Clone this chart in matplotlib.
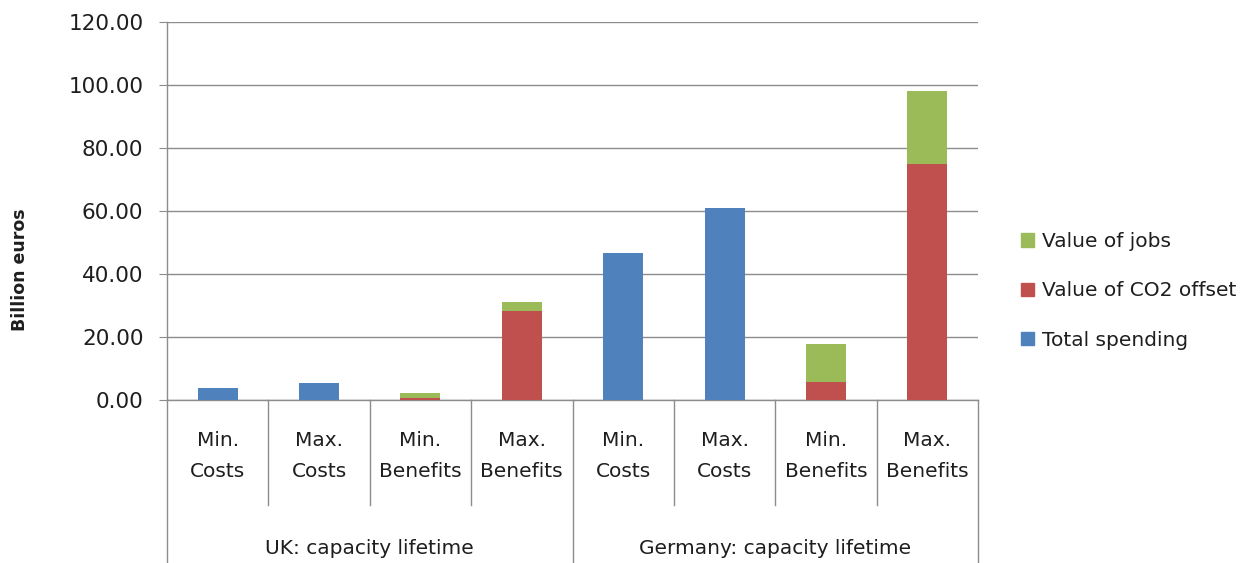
import matplotlib
matplotlib.use("Agg")
import matplotlib.pyplot as plt
from matplotlib.patches import Patch
import numpy as np

# Bar categories and the two group headings underneath
Categories = ["Min.\nCosts", "Max.\nCosts", "Min.\nBenefits", "Max.\nBenefits",
              "Min.\nCosts", "Max.\nCosts", "Min.\nBenefits", "Max.\nBenefits"]
Groups = ["UK: capacity lifetime", "Germany: capacity lifetime"]

# Values in billion euros
TotalSpending = [3.8, 5.5, 0.0, 0.0, 46.7, 61.0, 0.0, 0.0]
ValueCO2 = [0.0, 0.0, 0.6, 28.3, 0.0, 0.0, 5.8, 74.9]
ValueJobs = [0.0, 0.0, 1.5, 2.8, 0.0, 0.0, 11.9, 23.3]

YTicks = [0, 20, 40, 60, 80, 100, 120]

Blue = "#4F81BD"
Red = "#C0504D"
Green = "#9BBB59"
LineCol = "#8C8C8C"
TextCol = "#1E1E1E"

plt.rcParams["font.family"] = ["DejaVu Sans"]

fig = plt.figure(figsize=(12.53, 5.63), dpi=100)
ax = fig.add_axes([167 / 1253, 163 / 563, 811 / 1253, 378 / 563])

x = np.arange(len(Categories)) + 0.5
w = 0.395
ax.bar(x, TotalSpending, w, color=Blue, zorder=3)
ax.bar(x, ValueCO2, w, bottom=TotalSpending, color=Red, zorder=3)
bottom2 = np.array(TotalSpending) + np.array(ValueCO2)
ax.bar(x, ValueJobs, w, bottom=bottom2, color=Green, zorder=3)

ax.set_xlim(0, len(Categories))
ax.set_ylim(0, 120)
ax.set_yticks(YTicks)
ax.set_yticklabels(["%.2f" % v for v in YTicks], fontsize=15.5, color=TextCol)
ax.tick_params(axis="y", direction="out", length=6, color=LineCol, pad=11)
ax.set_xticks([])
ax.yaxis.grid(True, color=LineCol, linewidth=1.0)
ax.set_axisbelow(True)
for s in ["top", "right"]:
    ax.spines[s].set_visible(False)
for s in ["left", "bottom"]:
    ax.spines[s].set_color(LineCol)
    ax.spines[s].set_linewidth(1.0)

# Category dividers and labels below the axis
tr = ax.get_xaxis_transform()
ax.plot([0, 0], [0, -0.431], transform=tr, color=LineCol, lw=1.0, clip_on=False)
for i in range(1, len(Categories)):
    low = -0.431 if i % 4 == 0 else -0.278
    ax.plot([i, i], [0, low], transform=tr, color=LineCol, lw=1.0, clip_on=False)
ax.plot([8, 8], [0, -0.431], transform=tr, color=LineCol, lw=1.0, clip_on=False)

for xi, lab in zip(x, Categories):
    ax.text(xi, -0.148, lab, transform=tr, ha="center", va="center",
            fontsize=14.5, color=TextCol, linespacing=1.75)
for gi, g in enumerate(Groups):
    ax.text(gi * 4 + 2, -0.393, g, transform=tr, ha="center", va="center",
            fontsize=14.5, color=TextCol)

fig.text(20 / 1253, 1 - 270 / 563, "Billion euros", rotation=90, ha="center",
         va="center", fontsize=12.5, fontweight="bold", color=TextCol)

handles = [Patch(color=Green, label="Value of jobs"),
           Patch(color=Red, label="Value of CO2 offset"),
           Patch(color=Blue, label="Total spending")]
fig.legend(handles=handles, loc="center left", bbox_to_anchor=(1003 / 1253, 1 - 291 / 563),
           frameon=False, fontsize=14.5, handlelength=0.65, handleheight=0.65,
           handletextpad=0.4, labelspacing=1.5, labelcolor=TextCol)

fig.savefig("out.png", dpi=100)
